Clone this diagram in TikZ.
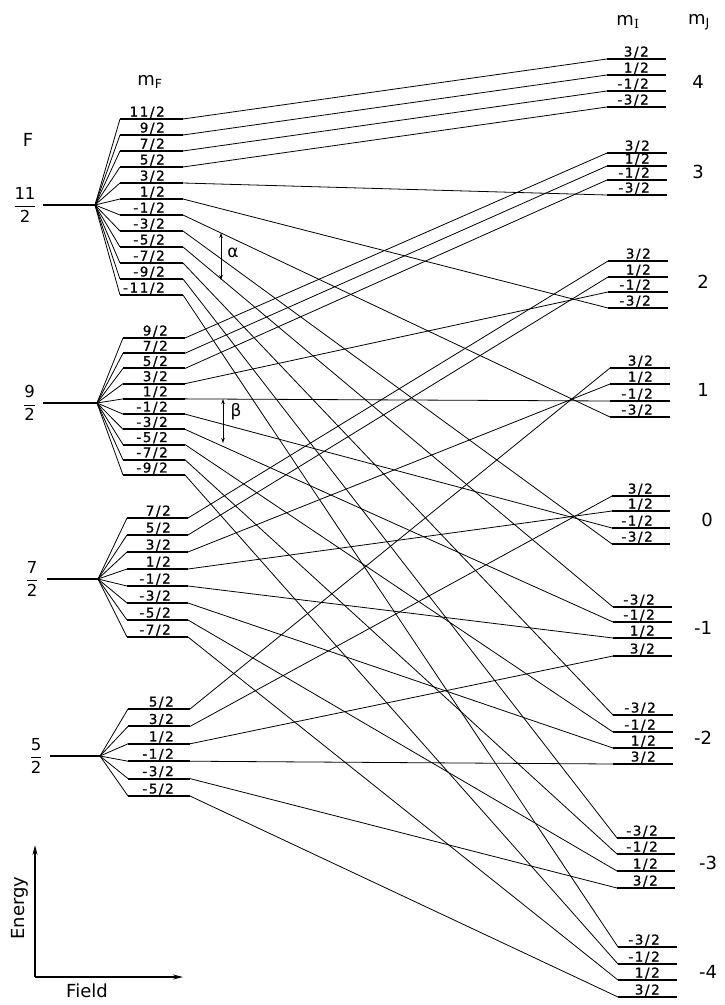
\documentclass[tikz,border=0pt]{standalone}
\usepackage{fontspec}
\setmainfont{DejaVu Sans}
\newfontfamily\labfont[LetterSpace=12,FakeBold=1]{DejaVu Sans}
\newfontfamily\serifI{DejaVu Serif}
\usetikzlibrary{arrows.meta}
\begin{document}
\begin{tikzpicture}[x=1pt,y=-1pt,
  lev/.style={line width=2pt},
  mainlev/.style={line width=2.8pt},
  conn/.style={line width=0.8pt},
  fanl/.style={line width=0.8pt},
  lab/.style={font=\labfont\fontsize{13.5}{14}\selectfont, anchor=base east, inner sep=0pt},
  big/.style={font=\fontsize{18}{20}\selectfont, inner sep=0pt},
  fracl/.style={font=\fontsize{16.5}{18}\selectfont, inner sep=0pt},
  greek/.style={font=\fontsize{17}{20}\selectfont, inner sep=0pt},
  dbl/.style={{Stealth[length=5pt,width=3.5pt]}-{Stealth[length=5pt,width=3.5pt]}, line width=0.9pt},
  axis/.style={-{Stealth[length=10pt,width=5pt]}, line width=1.3pt}
]
\useasboundingbox (0,0) rectangle (725,1005);

% ---------- left: F levels ----------
\coordinate (Amain) at (43,205);  \coordinate (Afan) at (95,205);
\coordinate (Bmain) at (43,403);  \coordinate (Bfan) at (97,403);
\coordinate (Cmain) at (47,579);  \coordinate (Cfan) at (98,579);
\coordinate (Dmain) at (50,756);  \coordinate (Dfan) at (100,756);
\draw[mainlev] (Amain) -- (Afan);
\draw[mainlev] (Bmain) -- (Bfan);
\draw[mainlev] (Cmain) -- (Cfan);
\draw[mainlev] (Dmain) -- (Dfan);

\node[fracl] (FA) at (25,205) {$\displaystyle\frac{\mbox{11}}{\mbox{2}}$};
\node[fracl] (FB) at (29.5,403) {$\displaystyle\frac{\mbox{9}}{\mbox{2}}$};
\node[fracl] (FC) at (32,579) {$\displaystyle\frac{\mbox{7}}{\mbox{2}}$};
\node[fracl] (FD) at (36,756) {$\displaystyle\frac{\mbox{5}}{\mbox{2}}$};
\node[big] (Ftitle) at (28,140) {F};
\node[big] (mFtitle) at (150,82) {m\textsubscript{F}};

% mF sublevels
\foreach \v [count=\i from 0] in {11,9,...,-11}{
  \pgfmathsetmacro\yy{119+16*\i}
  \coordinate (Al\v) at (120,\yy);
  \coordinate (Ar\v) at (183,\yy);
  \draw[fanl] (Afan) -- (Al\v);
  \draw[lev] (Al\v) -- (Ar\v);
  \node[lab] (At\v) at (165,\yy-2.5) {\v/2};
}
\foreach \v [count=\i from 0] in {9,7,...,-9}{
  \pgfmathsetmacro\yy{338+15.22*\i}
  \coordinate (Bl\v) at (123,\yy);
  \coordinate (Br\v) at (185,\yy);
  \draw[fanl] (Bfan) -- (Bl\v);
  \draw[lev] (Bl\v) -- (Br\v);
  \node[lab] (Bt\v) at (168,\yy-2.5) {\v/2};
}
\foreach \v [count=\i from 0] in {7,5,...,-7}{
  \pgfmathsetmacro\yy{518+17*\i}
  \coordinate (Cl\v) at (127,\yy);
  \coordinate (Cr\v) at (188,\yy);
  \draw[fanl] (Cfan) -- (Cl\v);
  \draw[lev] (Cl\v) -- (Cr\v);
  \node[lab] (Ct\v) at (171,\yy-2.5) {\v/2};
}
\foreach \v [count=\i from 0] in {5,3,...,-5}{
  \pgfmathsetmacro\yy{709+17.4*\i}
  \coordinate (Dl\v) at (128,\yy);
  \coordinate (Dr\v) at (190,\yy);
  \draw[fanl] (Dfan) -- (Dl\v);
  \draw[lev] (Dl\v) -- (Dr\v);
  \node[lab] (Dt\v) at (174,\yy-2.5) {\v/2};
}

% ---------- right: high-field levels ----------
\foreach \nm/\lb/\xl/\xr/\y in {
  4p3/3/607/666/59, 4p1/1/607/666/75, 4m1/-1/607/666/91, 4m3/-3/607/666/107,
  3p3/3/607/667/153, 3p1/1/607/667/166, 3m1/-1/607/667/180, 3m3/-3/607/667/195,
  2p3/3/608/668/261, 2p1/1/608/668/277, 2m1/-1/608/668/292, 2m3/-3/608/668/308,
  1p3/3/610/670/368, 1p1/1/610/670/384, 1m1/-1/610/670/401, 1m3/-3/610/670/417,
  0p3/3/612/670/496, 0p1/1/612/670/511, 0m1/-1/612/670/528, 0m3/-3/612/670/544,
  m1m3/-3/613/672/607, m1m1/-1/613/672/622, m1p1/1/613/672/638, m1p3/3/613/672/656,
  m2m3/-3/613/673/715, m2m1/-1/613/673/732, m2p1/1/613/673/748, m2p3/3/613/673/764,
  m3m3/-3/617/675/838, m3m1/-1/617/675/854, m3p1/1/617/675/871, m3p3/3/617/675/888,
  m4m3/-3/618/677/947, m4m1/-1/618/677/964, m4p1/1/618/677/980, m4p3/3/618/677/997}{
  \coordinate (Rl\nm) at (\xl,\y);
  \coordinate (Rr\nm) at (\xr,\y);
  \draw[lev] (Rl\nm) -- (Rr\nm);
  \node[lab] (Rt\nm) at ({\xr-17},{\y-2.5}) {\lb/2};
}

\node[big] (mItitle) at (628,22) {m\textsubscript{\serifI I}};
\node[big] (mJtitle) at (699,22) {m\textsubscript{J}};
\foreach \nm/\t/\x/\y in {J4/4/698/82, J3/3/698/172, J2/2/703/282, J1/1/703/390,
  J0/0/707/520, Jm1/-1/703/628, Jm2/-2/703/738, Jm3/-3/708/863, Jm4/-4/708/972}{
  \node[big] (\nm) at (\x,\y) {\t};
}

% ---------- connectors ----------
\foreach \p/\v/\b in {A/11/4p3, A/9/4p1, A/7/4m1, A/5/4m3, A/3/3m3, A/1/2m3, A/-1/1m3,
  A/-3/0m3, A/-5/m1m3, A/-7/m2m3, A/-9/m3m3, A/-11/m4m3,
  B/9/3p3, B/7/3p1, B/5/3m1, B/3/2m1, B/1/1m1, B/-1/0m1, B/-3/m1m1, B/-5/m2m1,
  B/-7/m3m1, B/-9/m4m1,
  C/7/2p3, C/5/2p1, C/3/1p1, C/1/0p1, C/-1/m1p1, C/-3/m2p1, C/-5/m3p1, C/-7/m4p1,
  D/5/1p3, D/3/0p3, D/1/m1p3, D/-1/m2p3, D/-3/m3p3, D/-5/m4p3}{
  \draw[conn] (\p r\v) -- (Rl\b);
}

% ---------- alpha, beta ----------
\coordinate (alt) at (221,233); \coordinate (alb) at (221,280);
\coordinate (bet) at (223,399); \coordinate (beb) at (223,443);
\draw[dbl] (alt) -- (alb);
\draw[dbl] (bet) -- (beb);
\node[greek] (alpha) at (233,253) {α};
\node[greek] (beta) at (236,412) {β};

% ---------- axes ----------
\coordinate (O) at (35,977);
\coordinate (Etop) at (35,845);
\coordinate (Fend) at (183,977);
\draw[axis] (O) -- (Etop);
\draw[axis] (O) -- (Fend);
\node[big, rotate=90] (Elab) at (20,908) {Energy};
\node[big] (Flab) at (87,991) {Field};
\end{tikzpicture}
\end{document}
